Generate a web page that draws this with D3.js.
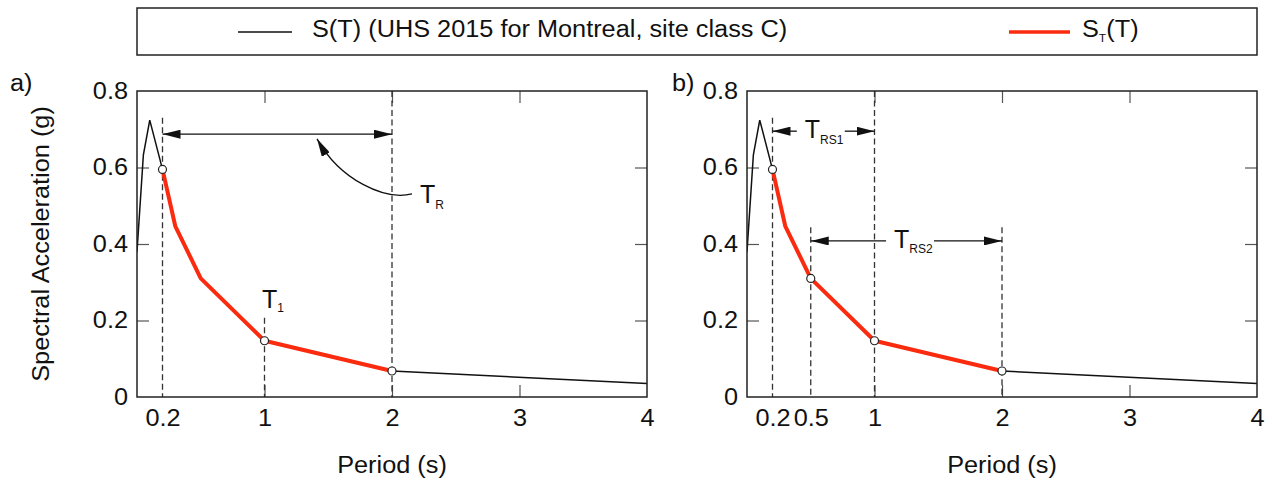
<!DOCTYPE html>
<html>
<head>
<meta charset="utf-8">
<script src="https://cdn.jsdelivr.net/npm/d3@7"></script>
<style>
    body { margin: 0; background: #fff; }
    svg text { font-family: "Liberation Sans", Arial, sans-serif; fill: #111; }
    .axis .domain { display: none; }
    .axis line { stroke: #555; stroke-width: 1.2; }
    .axis text { font-size: 23px; fill: #111; }
    .frame { fill: none; stroke: #222; stroke-width: 1.5; }
    .guide { stroke: #333; stroke-width: 1.3; stroke-dasharray: 6,3.5; }
    .uhs { fill: none; stroke: #111; stroke-width: 1.5; }
    .target { fill: none; stroke: #fa2b0e; stroke-width: 4; stroke-linejoin: round; }
    .pt { fill: #fff; stroke: #222; stroke-width: 1.2; }
    .dim { fill: none; stroke: #111; stroke-width: 1.3; }
</style>
</head>
<body>
<div id="chart"></div>
<script>
// S(T): UHS 2015 for Montreal, site class C
const periods  = [0, 0.05, 0.1, 0.2, 0.3, 0.5, 1, 2, 4];
const saValues = [0.38, 0.633, 0.724, 0.595, 0.447, 0.31, 0.147, 0.068, 0.035];

// S_T(T): target spectrum between 0.2 s and 2 s
const targetPeriods = [0.2, 0.3, 0.5, 1, 2];
const targetValues  = [0.595, 0.447, 0.31, 0.147, 0.068];

// ticks
const yTicks  = [0, 0.2, 0.4, 0.6, 0.8];
const xTicksA = [0.2, 1, 2, 3, 4];
const xTicksB = [0.2, 0.5, 1, 2, 3, 4];
const innerTicksX = [1, 2, 3];
const innerTicksY = [0.2, 0.4, 0.6];

// periods marked with open circles
const pointsA = [0.2, 1, 2];
const pointsB = [0.2, 0.5, 1, 2];

const FONT = 23;
const STRETCH = 1.1;

// the original type is a bit wider than Arial, so widen the glyphs a little
function stretchText(sel) {
    sel.each(function () {
        let len = this.getComputedTextLength();
        d3.select(this)
            .attr("textLength", len * STRETCH)
            .attr("lengthAdjust", "spacingAndGlyphs");
    });
}

const svg = d3.select("#chart").append("svg")
    .attr("width", 1272)
    .attr("height", 485);

svg.append("rect").attr("width", 1272).attr("height", 485).attr("fill", "#fff");

svg.append("defs").append("marker")
    .attr("id", "arrow")
    .attr("viewBox", "0 0 18 9")
    .attr("refX", 18)
    .attr("refY", 4.5)
    .attr("markerWidth", 18)
    .attr("markerHeight", 9)
    .attr("markerUnits", "userSpaceOnUse")
    .attr("orient", "auto-start-reverse")
    .append("path")
    .attr("d", "M0,0L18,4.5L0,9Z")
    .attr("fill", "#111");


class SpectrumPanel {

    constructor(svg, config) {
        this.svg = svg;
        this.config = config;
        this.uhs = d3.zip(periods, saValues);
        this.target = d3.zip(targetPeriods, targetValues);
        this.initVis();
    }

    saAt(t) {
        let i = periods.indexOf(t);
        return saValues[i];
    }

    initVis() {
        let vis = this;
        let c = vis.config;

        vis.width = 510;
        vis.height = 306;

        vis.g = vis.svg.append("g")
            .attr("transform", `translate(${c.left}, ${c.top})`);

        vis.x = d3.scaleLinear().domain([0, 4]).range([0, vis.width]);
        vis.y = d3.scaleLinear().domain([0, 0.8]).range([vis.height, 0]);

        vis.g.append("clipPath")
            .attr("id", "clip-" + c.id)
            .append("rect")
            .attr("width", vis.width)
            .attr("height", vis.height);

        // axes, ticks pointing inward
        let left = vis.g.append("g").attr("class", "axis")
            .call(d3.axisLeft(vis.y).tickValues(yTicks).tickSize(-12).tickPadding(9)
                .tickFormat(d => d === 0 ? "0" : d3.format(".1f")(d)));
        left.selectAll("line").filter(d => d === 0 || d === 0.8).remove();
        stretchText(left.selectAll("text"));

        vis.g.append("g").attr("class", "axis")
            .attr("transform", `translate(${vis.width}, 0)`)
            .call(d3.axisRight(vis.y).tickValues(innerTicksY).tickSize(-12).tickFormat(""));

        vis.g.append("g").attr("class", "axis")
            .call(d3.axisTop(vis.x).tickValues(innerTicksX).tickSize(-12).tickFormat(""));

        let bottom = vis.g.append("g").attr("class", "axis")
            .attr("transform", `translate(0, ${vis.height})`)
            .call(d3.axisBottom(vis.x).tickValues(c.xTicks).tickSize(-12).tickPadding(13)
                .tickFormat(d => String(d)));
        bottom.selectAll("line").filter(d => !innerTicksX.includes(d)).remove();
        stretchText(bottom.selectAll("text"));

        vis.updateVis();
    }

    updateVis() {
        let vis = this;
        let c = vis.config;

        // dashed guide lines
        vis.g.selectAll(".guide")
            .data(c.guides)
            .join("line")
            .attr("class", "guide")
            .attr("x1", d => vis.x(d.t))
            .attr("x2", d => vis.x(d.t))
            .attr("y1", d => vis.y(d.top))
            .attr("y2", vis.height);

        let line = d3.line()
            .x(d => vis.x(d[0]))
            .y(d => vis.y(d[1]));

        vis.g.append("path")
            .datum(vis.uhs)
            .attr("class", "uhs")
            .attr("clip-path", `url(#clip-${c.id})`)
            .attr("d", line);

        vis.g.append("path")
            .datum(vis.target)
            .attr("class", "target")
            .attr("d", line);

        // dimension arrows with optional T_xx label in a gap
        c.dims.forEach(dm => {
            let yy = vis.y(dm.sa);
            if (!dm.sub) {
                vis.g.append("line").attr("class", "dim")
                    .attr("x1", vis.x(dm.from)).attr("x2", vis.x(dm.to))
                    .attr("y1", yy).attr("y2", yy)
                    .attr("marker-start", "url(#arrow)")
                    .attr("marker-end", "url(#arrow)");
                return;
            }
            let lab = vis.g.append("text")
                .attr("x", vis.x(dm.labelAt))
                .attr("y", yy + 7)
                .attr("text-anchor", "middle");
            lab.append("tspan").attr("font-size", 25).text("T");
            lab.append("tspan").attr("font-size", 12).attr("dy", 5.5).text(dm.sub);
            let bb = lab.node().getBBox();
            vis.g.append("line").attr("class", "dim")
                .attr("x1", vis.x(dm.from)).attr("x2", bb.x - 8)
                .attr("y1", yy).attr("y2", yy)
                .attr("marker-start", "url(#arrow)");
            vis.g.append("line").attr("class", "dim")
                .attr("x1", bb.x + bb.width + 1).attr("x2", vis.x(dm.to))
                .attr("y1", yy).attr("y2", yy)
                .attr("marker-end", "url(#arrow)");
        });

        // curved pointer to the T_R arrow
        if (c.pointer) {
            let p = c.pointer;
            let path = d3.path();
            path.moveTo(vis.x(p.from[0]), vis.y(p.from[1]));
            path.bezierCurveTo(vis.x(p.c1[0]), vis.y(p.c1[1]),
                vis.x(p.c2[0]), vis.y(p.c2[1]),
                vis.x(p.to[0]), vis.y(p.to[1]));
            vis.g.append("path").attr("class", "dim")
                .attr("d", path.toString())
                .attr("marker-end", "url(#arrow)");
        }

        // free labels like T_1 and T_R
        c.labels.forEach(l => {
            let t = vis.g.append("text")
                .attr("x", vis.x(l.t))
                .attr("y", vis.y(l.sa));
            t.append("tspan").attr("font-size", 25).text("T");
            t.append("tspan").attr("font-size", 12).attr("dy", l.dy).text(l.sub);
        });

        // open circles
        vis.g.selectAll(".pt")
            .data(c.points)
            .join("circle")
            .attr("class", "pt")
            .attr("cx", d => vis.x(d))
            .attr("cy", d => vis.y(vis.saAt(d)))
            .attr("r", 4);

        vis.g.append("rect")
            .attr("class", "frame")
            .attr("width", vis.width)
            .attr("height", vis.height);

        // titles
        let xt = vis.g.append("text")
            .attr("x", vis.width / 2)
            .attr("y", 473 - c.top)
            .attr("text-anchor", "middle")
            .attr("font-size", FONT)
            .text("Period (s)");
        stretchText(xt);

        let tag = vis.g.append("text")
            .attr("x", c.tagX - c.left)
            .attr("y", 91 - c.top)
            .attr("font-size", FONT)
            .text(c.tag);
        stretchText(tag);

        if (c.yTitle) {
            let yt = vis.g.append("text")
                .attr("transform", `translate(${48.5 - c.left}, ${vis.height / 2}) rotate(-90)`)
                .attr("text-anchor", "middle")
                .attr("font-size", FONT)
                .text("Spectral Acceleration (g)");
            stretchText(yt);
        }
    }
}


new SpectrumPanel(svg, {
    id: "a", left: 137, top: 91, tag: "a)", tagX: 10, yTitle: true,
    xTicks: xTicksA,
    points: pointsA,
    guides: [{t: 0.2, top: 0.73}, {t: 1, top: 0.207}, {t: 2, top: 0.8}],
    dims: [{from: 0.2, to: 2, sa: 0.687}],
    pointer: {from: [2.157, 0.531], c1: [1.945, 0.513], c2: [1.592, 0.567], to: [1.412, 0.675]},
    labels: [{t: 0.98, sa: 0.233, sub: "1", dy: 4.5}, {t: 2.22, sa: 0.507, sub: "R", dy: 6}]
});

new SpectrumPanel(svg, {
    id: "b", left: 747, top: 91, tag: "b)", tagX: 672, yTitle: false,
    xTicks: xTicksB,
    points: pointsB,
    guides: [{t: 0.2, top: 0.73}, {t: 0.5, top: 0.444}, {t: 1, top: 0.8}, {t: 2, top: 0.444}],
    dims: [{from: 0.2, to: 1, sa: 0.695, sub: "RS1", labelAt: 0.605},
           {from: 0.5, to: 2, sa: 0.408, sub: "RS2", labelAt: 1.305}],
    pointer: null,
    labels: []
});


// legend
let legend = svg.append("g");
legend.append("rect")
    .attr("x", 137).attr("y", 8)
    .attr("width", 1120).attr("height", 47)
    .attr("fill", "none").attr("stroke", "#222").attr("stroke-width", 1.5);

legend.append("line")
    .attr("x1", 238).attr("x2", 292).attr("y1", 32).attr("y2", 32)
    .attr("stroke", "#111").attr("stroke-width", 1.5);
stretchText(legend.append("text")
    .attr("x", 312).attr("y", 37)
    .attr("font-size", FONT)
    .text("S(T) (UHS 2015 for Montreal, site class C)"));

legend.append("line")
    .attr("x1", 1009).attr("x2", 1070).attr("y1", 32).attr("y2", 32)
    .attr("stroke", "#fa2b0e").attr("stroke-width", 3.5);
let st = legend.append("text")
    .attr("x", 1082).attr("y", 37)
    .attr("font-size", FONT);
st.append("tspan").text("S");
st.append("tspan").attr("font-size", 11).attr("dy", 5).text("T");
st.append("tspan").attr("dy", -5).text("(T)");
stretchText(st);
</script>
</body>
</html>
